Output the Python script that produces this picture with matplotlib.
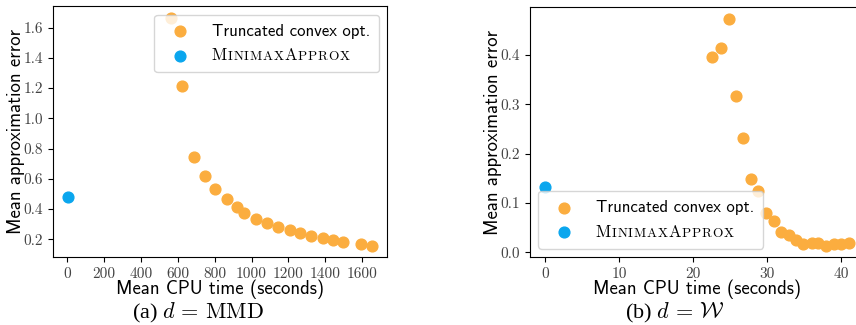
import matplotlib
matplotlib.use("Agg")
import matplotlib.pyplot as plt
from matplotlib.offsetbox import TextArea, HPacker

plt.rcParams['mathtext.fontset'] = 'cm'

# (a) d = MMD
mmd_time = [563, 623, 688, 749, 804, 869, 919, 961, 1022, 1082, 1143, 1208,
            1262, 1324, 1385, 1443, 1493, 1593, 1654]
mmd_error = [1.666, 1.212, 0.743, 0.619, 0.530, 0.466, 0.413, 0.371, 0.337,
             0.309, 0.282, 0.260, 0.240, 0.222, 0.207, 0.193, 0.182, 0.169, 0.158]
mmd_minimax_time = [4]
mmd_minimax_error = [0.479]

# (b) d = W
w_time = [22.6, 23.7, 24.8, 25.8, 26.8, 27.8, 28.8, 29.8, 30.9, 31.9, 32.9,
          33.9, 34.9, 36.0, 36.9, 37.9, 39.0, 40.0, 41.1]
w_error = [0.395, 0.414, 0.474, 0.316, 0.232, 0.149, 0.124, 0.079, 0.064,
           0.041, 0.036, 0.025, 0.017, 0.018, 0.020, 0.0135, 0.016, 0.017, 0.018]
w_minimax_time = [0.0]
w_minimax_error = [0.132]

orange = '#FBAD3F'
blue = '#0AA6EE'
legend_size = 12


def smallcaps_label(size):
    # letter by letter so the small caps get a bit of tracking like cmcsc
    boxes = []
    for ch in "MinimaxApprox":
        sz = size if ch.isupper() else size * 0.8
        boxes.append(TextArea(ch.upper(), textprops=dict(family='cmr10', size=sz)))
    return HPacker(children=boxes, pad=0, sep=0.6, align='baseline')


def draw_panel(ax, t, e, mt, me, xticks, yticks, loc):
    ax.scatter(t, e, s=60, color=orange, label='Truncated convex opt.', zorder=3)
    ax.scatter(mt, me, s=60, color=blue, label='MinimaxApprox', zorder=3)
    ax.set_xticks(xticks)
    ax.set_yticks(yticks)
    ax.tick_params(labelfontfamily='cmr10', labelsize=11, labelcolor='#444444')
    ax.set_xlabel('Mean CPU time (seconds)', family='cmss10', fontsize=13.5, labelpad=-1)
    ax.set_ylabel('Mean approximation error', family='cmss10', fontsize=13.5, labelpad=-1)
    leg = ax.legend(loc=loc, prop={'family': 'cmss10', 'size': legend_size},
                    handletextpad=0.9, borderpad=0.55, labelspacing=0.55)
    # swap the plain text for a small-caps style label
    for column in leg._legend_handle_box.get_children():
        for item in column.get_children():
            kids = item.get_children()
            for i, k in enumerate(kids):
                if isinstance(k, TextArea) and k.get_text() == 'MinimaxApprox':
                    box = smallcaps_label(legend_size)
                    box.set_figure(ax.figure)
                    kids[i] = box
    return leg


fig = plt.figure(figsize=(8.56, 3.25), dpi=100)
ax1 = fig.add_axes([0.0616, 0.209, 0.391, 0.772])
ax2 = fig.add_axes([0.619, 0.209, 0.391, 0.769])

draw_panel(ax1, mmd_time, mmd_error, mmd_minimax_time, mmd_minimax_error,
           range(0, 1601, 200), [0.2, 0.4, 0.6, 0.8, 1.0, 1.2, 1.4, 1.6], 'upper right')
draw_panel(ax2, w_time, w_error, w_minimax_time, w_minimax_error,
           range(0, 41, 10), [0.0, 0.1, 0.2, 0.3, 0.4], 'lower left')

fig.text(198 / 856, 1 - 313 / 325, r'(a) $d\,=\,\mathrm{MMD}$', ha='center', va='center',
         family='Liberation Serif', fontsize=16)
fig.text(675 / 856, 1 - 313 / 325, r'(b) $d\,=\,\mathcal{W}$', ha='center', va='center',
         family='Liberation Serif', fontsize=16)

fig.savefig('out.png', dpi=100)
